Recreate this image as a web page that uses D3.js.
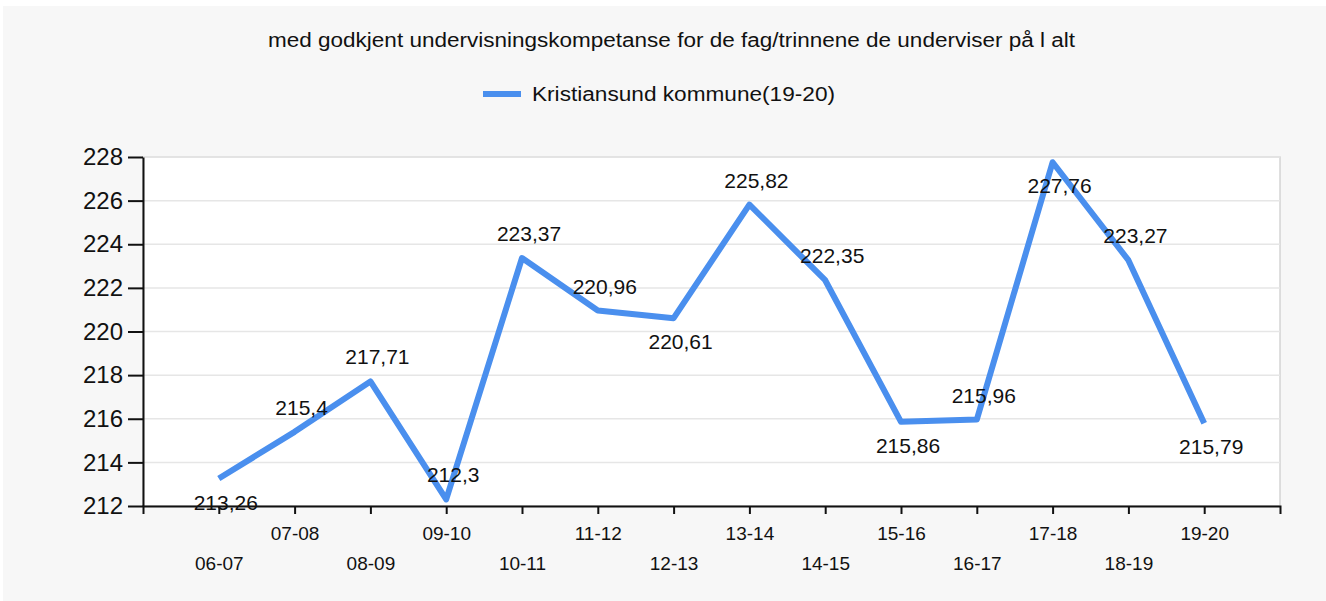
<!DOCTYPE html>
<html>
<head>
<meta charset="utf-8">
<script src="https://cdn.jsdelivr.net/npm/d3@7"></script>
<style>
  body { margin: 0; background: #ffffff; }
  text { font-family: Arial, "Liberation Sans", sans-serif; fill: #111; }
</style>
</head>
<body>
<script>

// data
var seasons = [ "06-07", "07-08", "08-09", "09-10", "10-11", "11-12", "12-13",
                "13-14", "14-15", "15-16", "16-17", "17-18", "18-19", "19-20" ],
    values = [ 213.26, 215.4, 217.71, 212.3, 223.37, 220.96, 220.61,
               225.82, 222.35, 215.86, 215.96, 227.76, 223.27, 215.79 ],
    labelSide = [ "below", "above", "above", "above", "above", "above", "below",
                  "above", "above", "below", "above", "below", "above", "below" ],
    yTicks = [ 212, 214, 216, 218, 220, 222, 224, 226, 228 ],
    seriesName = "Kristiansund kommune(19-20)",
    title = "med godkjent undervisningskompetanse for de fag/trinnene de underviser på l alt";


var width = 1326,
    height = 601,
    plot = { left: 143, top: 157, right: 1280, bottom: 506 },
    lineColor = "#4a8fee";


var svg = d3.select("body")
    .append("svg")
        .attr("width", width)
        .attr("height", height);


// grey panel
svg.append("rect")
    .attr("x", 3)
    .attr("y", 6)
    .attr("width", width - 3)
    .attr("height", height - 6)
    .attr("fill", "#f7f7f7");


var x = d3.scalePoint()
        .domain(seasons)
        .range([plot.left, plot.right])
        .padding(1),

    y = d3.scaleLinear()
        .domain([212, 228])
        .range([plot.bottom, plot.top]);


// plot area
svg.append("rect")
    .attr("x", plot.left)
    .attr("y", plot.top)
    .attr("width", plot.right - plot.left)
    .attr("height", plot.bottom - plot.top)
    .attr("fill", "#ffffff")
    .attr("stroke", "#d4d4d4")
    .attr("stroke-width", 1.5);


// gridlines
svg.append("g")
    .selectAll("line")
    .data(yTicks.slice(1))
    .enter()
    .append("line")
        .attr("x1", plot.left)
        .attr("x2", plot.right)
        .attr("y1", function(d) { return y(d); })
        .attr("y2", function(d) { return y(d); })
        .attr("stroke", "#e6e6e6")
        .attr("stroke-width", 1.5);


// y axis
var yAxis = svg.append("g")
    .attr("transform", "translate(" + plot.left + ",0)")
    .call(d3.axisLeft(y).tickValues(yTicks).tickSize(15).tickPadding(5).tickSizeOuter(0));

yAxis.select(".domain").attr("stroke", "#111").attr("stroke-width", 2);
yAxis.selectAll(".tick line").attr("stroke", "#111").attr("stroke-width", 2);
yAxis.selectAll("text")
    .style("font-size", "24px")
    .attr("fill", "#111");


// x axis
var xAxis = svg.append("g")
    .attr("transform", "translate(0," + plot.bottom + ")")
    .call(d3.axisBottom(x).tickSize(8).tickSizeOuter(8).tickPadding(0));

xAxis.select(".domain").attr("stroke", "#111").attr("stroke-width", 2);
xAxis.selectAll(".tick line").attr("stroke", "#111").attr("stroke-width", 2);
xAxis.selectAll("text")
    .style("font-size", "19px")
    .attr("fill", "#111")
    .attr("dy", null)
    .attr("y", function(d, i) { return i % 2 === 0 ? 64 : 34; });


// the line
var line = d3.line()
    .x(function(d, i) { return x(seasons[i]); })
    .y(function(d) { return y(d); });

svg.append("path")
    .datum(values)
    .attr("d", line)
    .attr("fill", "none")
    .attr("stroke", lineColor)
    .attr("stroke-width", 6)
    .attr("stroke-linejoin", "round");


// data labels
svg.append("g")
    .selectAll("text")
    .data(values)
    .enter()
    .append("text")
        .attr("x", function(d, i) { return x(seasons[i]) + 7; })
        .attr("y", function(d, i) { return y(d) + (labelSide[i] === "above" ? -17 : 31); })
        .attr("text-anchor", "middle")
        .style("font-size", "21px")
        .text(function(d) { return String(d).replace(".", ","); });


// title + legend (the original font is narrow and tall, so stretch to width)
svg.append("text")
    .attr("x", 268)
    .attr("y", 47)
    .attr("textLength", 807)
    .attr("lengthAdjust", "spacingAndGlyphs")
    .style("font-size", "20px")
    .text(title);

svg.append("line")
    .attr("x1", 483)
    .attr("x2", 521)
    .attr("y1", 94)
    .attr("y2", 94)
    .attr("stroke", lineColor)
    .attr("stroke-width", 6);

svg.append("text")
    .attr("x", 532)
    .attr("y", 101)
    .attr("textLength", 303)
    .attr("lengthAdjust", "spacingAndGlyphs")
    .style("font-size", "20px")
    .text(seriesName);

</script>
</body>
</html>
